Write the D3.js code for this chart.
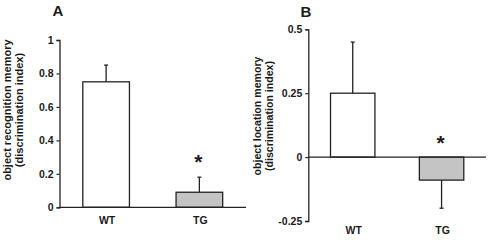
<!DOCTYPE html>
<html>
<head>
<meta charset="utf-8">
<script src="https://cdn.jsdelivr.net/npm/d3@7/dist/d3.min.js"></script>
<style>
  html, body { margin: 0; padding: 0; background: #fff; }
  svg { display: block; }
  text { font-family: "Liberation Sans", Arial, sans-serif; font-weight: bold; fill: #1a1a1a; }
</style>
</head>
<body>
<svg id="chart" width="489" height="241"></svg>
<script>
// ---- data ----
const categories = ["WT", "TG"];
const recognitionMeans = [0.75, 0.09];
const recognitionErrors = [0.10, 0.09];
const locationMeans = [0.25, -0.09];
const locationErrors = [0.20, 0.11];
const recognitionTicks = [0, 0.2, 0.4, 0.6, 0.8, 1];
const recognitionTickLabels = ["0", "0.2", "0.4", "0.6", "0.8", "1"];
const locationTicks = [-0.25, 0, 0.25, 0.5];
const locationTickLabels = ["-0.25", "0", "0.25", "0.5"];
const barFills = ["#ffffff", "#c4c4c4"];
const significant = [false, true];

const svg = d3.select("#chart");
const ink = "#222";

function panel(cfg) {
  const g = svg.append("g");
  const x = d3.scaleBand().domain(categories).range(cfg.xRange).paddingInner(0.5).paddingOuter(0.25);
  const y = d3.scaleLinear().domain(cfg.yDomain).range(cfg.yRange);

  // y axis
  const yAxis = d3.axisLeft(y).tickValues(cfg.ticks)
    .tickFormat((d, i) => cfg.tickLabels[i]).tickSize(3).tickPadding(3);
  const ya = g.append("g").attr("transform", `translate(${cfg.xRange[0]},0)`).call(yAxis);
  ya.select(".domain").attr("stroke", ink).attr("stroke-width", 1.3);
  ya.selectAll(".tick line").attr("stroke", ink).attr("stroke-width", 1.2);
  ya.selectAll(".tick text").attr("font-size", 10.5).attr("font-weight", "bold")
    .attr("font-family", "Liberation Sans, Arial, sans-serif").attr("fill", "#1a1a1a");

  // bars
  g.selectAll("rect.bar").data(cfg.means).join("rect")
    .attr("x", (d, i) => x(categories[i]))
    .attr("width", x.bandwidth())
    .attr("y", d => Math.min(y(d), y(0)))
    .attr("height", d => Math.abs(y(d) - y(0)))
    .attr("fill", (d, i) => barFills[i])
    .attr("stroke", ink).attr("stroke-width", 1.3);

  // error bars (one-sided, away from zero)
  cfg.means.forEach((m, i) => {
    const cx = x(categories[i]) + x.bandwidth() / 2;
    const end = m >= 0 ? m + cfg.errors[i] : m - cfg.errors[i];
    g.append("line").attr("x1", cx).attr("x2", cx).attr("y1", y(m)).attr("y2", y(end))
      .attr("stroke", ink).attr("stroke-width", 1.3);
    g.append("line").attr("x1", cx - 2).attr("x2", cx + 2).attr("y1", y(end)).attr("y2", y(end))
      .attr("stroke", ink).attr("stroke-width", 1.3);
    if (significant[i]) {
      g.append("text").attr("x", cx - 1).attr("y", cfg.starY(y, m, end))
        .attr("text-anchor", "middle").attr("font-size", 21).text("*");
    }
  });

  // x baseline at zero
  g.append("line").attr("x1", cfg.xRange[0]).attr("x2", cfg.xRange[1])
    .attr("y1", y(0)).attr("y2", y(0)).attr("stroke", ink).attr("stroke-width", 1.3);

  // category labels
  g.selectAll("text.cat").data(categories).join("text")
    .attr("x", d => x(d) + x.bandwidth() / 2 + 1)
    .attr("y", cfg.catY)
    .attr("text-anchor", "middle").attr("font-size", 10.5).text(d => d);

  // y axis title
  cfg.title.forEach((t, i) => {
    g.append("text")
      .attr("transform", `translate(${cfg.titleX[i]},${cfg.titleY}) rotate(-90)`)
      .attr("text-anchor", "middle").attr("font-size", cfg.titleSize).text(t);
  });

  // panel letter
  g.append("text").attr("x", cfg.letterPos[0]).attr("y", cfg.letterPos[1])
    .attr("text-anchor", "middle").attr("font-size", 15).text(cfg.letter);
}

panel({
  xRange: [59.5, 246], yDomain: [0, 1], yRange: [207.3, 40],
  ticks: recognitionTicks, tickLabels: recognitionTickLabels,
  means: recognitionMeans, errors: recognitionErrors,
  starY: (y, m, end) => y(end) - 8,
  catY: 224, title: ["object recognition memory", "(discrimination index)"],
  titleX: [10.5, 22.5], titleY: 110, titleSize: 11,
  letter: "A", letterPos: [58, 16]
});

panel({
  xRange: [308.3, 486], yDomain: [-0.25, 0.5], yRange: [221, 29.3],
  ticks: locationTicks, tickLabels: locationTickLabels,
  means: locationMeans, errors: locationErrors,
  starY: (y, m, end) => y(0) - 7,
  catY: 234, title: ["object location memory", "(discrimination index)"],
  titleX: [260.5, 272.5], titleY: 116, titleSize: 10.6,
  letter: "B", letterPos: [306, 16.5]
});
</script>
</body>
</html>
